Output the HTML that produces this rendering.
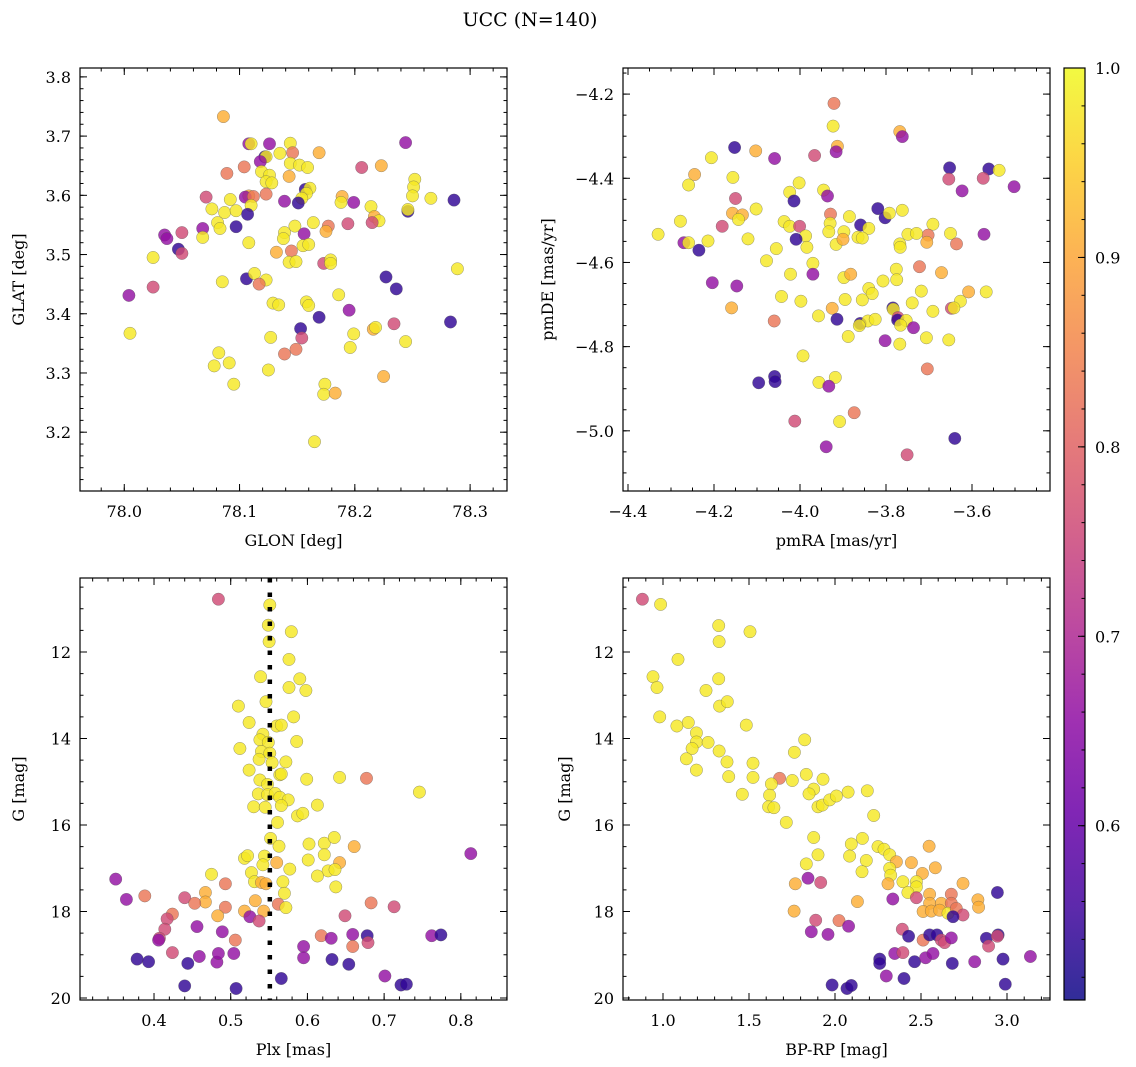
<!DOCTYPE html>
<html><head><meta charset="utf-8"><title>UCC (N=140)</title>
<style>
html,body{margin:0;padding:0;background:#fff;}
svg{display:block;font-family:"DejaVu Serif","Liberation Serif",serif;}
</style></head>
<body>
<svg id="fig" width="1136" height="1067" viewBox="0 0 1136 1067" xmlns="http://www.w3.org/2000/svg">
<text x="530" y="26" font-size="19" text-anchor="middle">UCC (N=140)</text>
</svg>
<script>
// ---- data: [x, y, membership probability] ----
const p1Stars = [[78.086,3.733,.91],[78.108,3.687,.66],[78.110,3.687,.98],[78.126,3.687,.66],[78.144,3.688,.98],[78.244,3.689,.66],[78.146,3.672,.83],[78.135,3.671,.98],[78.169,3.672,.91],[78.122,3.665,.54],[78.123,3.665,.98],[78.118,3.657,.66],[78.144,3.654,.98],[78.152,3.651,.98],[78.159,3.647,.98],[78.089,3.637,.83],[78.104,3.648,.83],[78.206,3.647,.76],[78.223,3.650,.91],[78.119,3.640,.98],[78.126,3.634,.98],[78.123,3.623,.98],[78.128,3.621,.98],[78.143,3.632,.91],[78.252,3.627,.98],[78.251,3.614,.98],[78.250,3.599,.98],[78.157,3.610,.54],[78.161,3.612,.98],[78.158,3.603,.98],[78.154,3.595,.98],[78.151,3.587,.54],[78.139,3.590,.66],[78.071,3.597,.76],[78.092,3.593,.98],[78.076,3.577,.98],[78.087,3.571,.98],[78.097,3.574,.98],[78.108,3.599,.91],[78.105,3.597,.66],[78.112,3.598,.83],[78.123,3.602,.83],[78.110,3.583,.98],[78.107,3.568,.54],[78.189,3.598,.91],[78.188,3.588,.98],[78.199,3.588,.66],[78.266,3.595,.98],[78.286,3.592,.54],[78.214,3.581,.98],[78.217,3.564,.91],[78.221,3.557,.98],[78.215,3.554,.76],[78.246,3.573,.54],[78.246,3.576,.98],[78.081,3.554,.98],[78.083,3.544,.98],[78.068,3.544,.66],[78.068,3.529,.98],[78.097,3.547,.54],[78.035,3.533,.66],[78.037,3.527,.66],[78.050,3.537,.76],[78.047,3.509,.54],[78.050,3.502,.76],[78.025,3.495,.98],[78.108,3.520,.98],[78.148,3.548,.98],[78.139,3.537,.98],[78.138,3.527,.98],[78.156,3.535,.66],[78.164,3.554,.98],[78.177,3.548,.83],[78.175,3.539,.91],[78.194,3.552,.76],[78.155,3.515,.98],[78.160,3.517,.98],[78.132,3.504,.91],[78.145,3.506,.83],[78.143,3.487,.98],[78.149,3.488,.98],[78.173,3.485,.76],[78.179,3.491,.98],[78.179,3.485,.98],[78.289,3.476,.98],[78.106,3.459,.54],[78.113,3.468,.98],[78.123,3.457,.98],[78.117,3.450,.83],[78.085,3.454,.98],[78.227,3.462,.54],[78.236,3.442,.54],[78.004,3.431,.66],[78.025,3.445,.76],[78.129,3.418,.98],[78.134,3.415,.98],[78.158,3.420,.98],[78.160,3.414,.98],[78.186,3.432,.98],[78.195,3.406,.66],[78.169,3.394,.54],[78.283,3.386,.54],[78.234,3.383,.76],[78.216,3.374,.91],[78.218,3.377,.98],[78.153,3.375,.54],[78.154,3.359,.76],[78.005,3.367,.98],[78.127,3.360,.98],[78.199,3.366,.98],[78.196,3.343,.98],[78.244,3.353,.98],[78.139,3.332,.83],[78.149,3.340,.83],[78.082,3.334,.98],[78.078,3.312,.98],[78.091,3.317,.98],[78.125,3.305,.98],[78.095,3.281,.98],[78.225,3.294,.91],[78.174,3.281,.98],[78.173,3.264,.98],[78.183,3.266,.91],[78.165,3.184,.98]];
const p2Stars = [[-3.921,-4.222,.83],[-3.923,-4.276,.98],[-3.768,-4.289,.91],[-3.762,-4.301,.66],[-3.913,-4.324,.91],[-3.916,-4.337,.66],[-4.152,-4.327,.54],[-4.103,-4.335,.91],[-4.059,-4.353,.66],[-3.966,-4.346,.76],[-4.206,-4.351,.98],[-4.245,-4.391,.91],[-4.259,-4.416,.98],[-4.156,-4.398,.98],[-3.652,-4.375,.54],[-3.654,-4.402,.76],[-3.623,-4.430,.66],[-3.561,-4.378,.54],[-3.537,-4.381,.98],[-3.574,-4.400,.76],[-3.502,-4.420,.66],[-4.002,-4.411,.98],[-4.024,-4.433,.98],[-4.014,-4.454,.54],[-3.945,-4.428,.98],[-3.936,-4.442,.66],[-4.150,-4.448,.76],[-3.819,-4.472,.54],[-3.802,-4.494,.54],[-3.792,-4.483,.98],[-3.762,-4.476,.98],[-4.102,-4.473,.98],[-4.157,-4.483,.91],[-4.134,-4.487,.91],[-4.143,-4.498,.98],[-4.278,-4.502,.98],[-4.330,-4.533,.98],[-4.181,-4.514,.76],[-4.270,-4.553,.66],[-4.259,-4.553,.98],[-4.235,-4.571,.54],[-4.214,-4.549,.98],[-4.121,-4.544,.98],[-4.037,-4.503,.98],[-4.024,-4.514,.98],[-4.001,-4.514,.76],[-3.987,-4.537,.98],[-4.009,-4.545,.54],[-3.984,-4.564,.98],[-3.929,-4.485,.83],[-3.930,-4.507,.98],[-3.933,-4.527,.98],[-3.916,-4.557,.98],[-3.898,-4.527,.98],[-3.900,-4.545,.91],[-3.885,-4.491,.98],[-3.859,-4.511,.54],[-3.840,-4.519,.98],[-3.865,-4.540,.98],[-3.855,-4.542,.98],[-3.691,-4.509,.98],[-3.702,-4.535,.83],[-3.705,-4.552,.91],[-3.650,-4.531,.98],[-3.636,-4.556,.83],[-3.749,-4.533,.98],[-3.729,-4.531,.98],[-3.768,-4.556,.98],[-3.767,-4.564,.98],[-3.572,-4.533,.66],[-4.055,-4.567,.98],[-4.078,-4.596,.98],[-3.970,-4.602,.98],[-3.970,-4.628,.66],[-4.022,-4.628,.98],[-4.204,-4.648,.66],[-4.147,-4.656,.66],[-3.898,-4.636,.98],[-3.882,-4.628,.91],[-3.776,-4.616,.98],[-3.775,-4.641,.98],[-3.807,-4.644,.98],[-3.722,-4.610,.83],[-3.671,-4.624,.91],[-3.840,-4.662,.98],[-3.832,-4.674,.98],[-3.718,-4.668,.98],[-3.608,-4.670,.91],[-3.567,-4.670,.98],[-3.627,-4.692,.98],[-4.159,-4.708,.91],[-4.043,-4.681,.98],[-3.998,-4.692,.98],[-3.895,-4.688,.98],[-3.855,-4.689,.98],[-3.739,-4.696,.98],[-3.648,-4.709,.76],[-3.642,-4.708,.98],[-3.691,-4.716,.98],[-3.784,-4.708,.54],[-3.783,-4.711,.98],[-3.925,-4.709,.91],[-4.060,-4.739,.83],[-3.957,-4.727,.98],[-3.914,-4.735,.54],[-3.772,-4.731,.76],[-3.773,-4.737,.54],[-3.753,-4.738,.98],[-3.766,-4.749,.98],[-3.736,-4.755,.66],[-3.860,-4.745,.54],[-3.842,-4.739,.98],[-3.825,-4.735,.98],[-3.862,-4.750,.98],[-3.888,-4.776,.98],[-3.802,-4.786,.66],[-3.768,-4.794,.98],[-3.706,-4.779,.98],[-3.654,-4.784,.98],[-3.993,-4.822,.98],[-3.704,-4.853,.83],[-4.096,-4.886,.54],[-4.059,-4.871,.54],[-4.058,-4.883,.54],[-3.956,-4.885,.98],[-3.918,-4.873,.98],[-3.933,-4.894,.66],[-4.012,-4.977,.76],[-3.908,-4.978,.98],[-3.874,-4.957,.83],[-3.640,-5.018,.54],[-3.939,-5.038,.66],[-3.751,-5.057,.76]];
const p3Stars = [[0.484,10.78,.76],[0.551,10.91,.98],[0.549,11.38,.98],[0.550,11.76,.98],[0.579,11.53,.98],[0.576,12.17,.98],[0.539,12.57,.98],[0.590,12.62,.98],[0.576,12.82,.98],[0.598,12.89,.98],[0.546,13.15,.98],[0.510,13.25,.98],[0.582,13.50,.98],[0.524,13.63,.98],[0.560,13.71,.98],[0.566,13.69,.98],[0.542,13.90,.98],[0.538,14.03,.98],[0.549,14.09,.98],[0.586,14.07,.98],[0.512,14.23,.98],[0.540,14.30,.98],[0.551,14.34,.98],[0.537,14.48,.98],[0.554,14.56,.98],[0.572,14.54,.98],[0.524,14.73,.98],[0.564,14.84,.98],[0.566,14.82,.98],[0.538,14.96,.98],[0.548,15.06,.98],[0.599,14.94,.98],[0.642,14.90,.98],[0.677,14.92,.83],[0.746,15.24,.98],[0.536,15.28,.98],[0.548,15.30,.98],[0.558,15.27,.98],[0.564,15.36,.98],[0.575,15.42,.98],[0.530,15.58,.98],[0.545,15.59,.98],[0.566,15.55,.98],[0.561,15.94,.98],[0.587,15.79,.98],[0.594,15.73,.98],[0.613,15.54,.98],[0.552,16.31,.98],[0.563,16.49,.98],[0.602,16.44,.98],[0.622,16.42,.98],[0.635,16.29,.98],[0.661,16.50,.91],[0.813,16.66,.66],[0.518,16.77,.98],[0.522,16.71,.98],[0.544,16.72,.98],[0.560,16.87,.91],[0.601,16.81,.98],[0.622,16.69,.98],[0.542,16.92,.98],[0.577,17.02,.98],[0.642,16.87,.91],[0.627,17.06,.98],[0.636,17.03,.98],[0.475,17.14,.98],[0.527,17.10,.98],[0.613,17.18,.98],[0.350,17.25,.66],[0.531,17.31,.98],[0.540,17.33,.91],[0.546,17.36,.91],[0.568,17.31,.98],[0.637,17.43,.98],[0.493,17.36,.83],[0.570,17.58,.98],[0.364,17.72,.66],[0.388,17.64,.83],[0.440,17.68,.76],[0.467,17.56,.91],[0.467,17.78,.91],[0.453,17.81,.83],[0.493,17.90,.83],[0.532,17.75,.91],[0.562,17.83,.83],[0.572,17.91,.98],[0.683,17.80,.83],[0.713,17.89,.76],[0.424,18.06,.83],[0.417,18.17,.76],[0.483,18.10,.91],[0.518,17.99,.91],[0.525,18.12,.66],[0.543,17.99,.91],[0.537,18.22,.76],[0.649,18.10,.76],[0.414,18.41,.76],[0.407,18.62,.76],[0.406,18.66,.66],[0.456,18.35,.66],[0.489,18.47,.66],[0.506,18.66,.83],[0.618,18.56,.83],[0.631,18.62,.66],[0.659,18.53,.66],[0.678,18.56,.54],[0.679,18.72,.76],[0.659,18.81,.83],[0.762,18.56,.66],[0.774,18.54,.54],[0.595,18.81,.66],[0.595,19.07,.66],[0.424,18.95,.76],[0.378,19.10,.54],[0.393,19.16,.54],[0.444,19.20,.54],[0.459,19.04,.66],[0.482,19.17,.66],[0.484,18.97,.66],[0.504,18.97,.66],[0.632,19.11,.54],[0.654,19.22,.54],[0.566,19.55,.54],[0.701,19.49,.66],[0.722,19.70,.54],[0.729,19.68,.54],[0.440,19.72,.54],[0.507,19.78,.54]];
const p4Stars = [[0.880,10.78,.76],[0.986,10.90,.98],[1.324,11.39,.98],[1.326,11.76,.98],[1.506,11.53,.98],[1.087,12.17,.98],[0.942,12.57,.98],[0.965,12.82,.98],[1.324,12.62,.98],[1.250,12.89,.98],[1.329,13.25,.98],[1.374,13.15,.98],[0.981,13.50,.98],[1.081,13.71,.98],[1.147,13.63,.98],[1.484,13.69,.98],[1.194,13.87,.98],[1.194,14.08,.98],[1.262,14.09,.98],[1.169,14.23,.98],[1.326,14.29,.98],[1.824,14.03,.98],[1.764,14.32,.98],[1.136,14.47,.98],[1.372,14.54,.98],[1.523,14.57,.98],[1.194,14.73,.98],[1.382,14.88,.98],[1.523,14.90,.98],[1.678,14.92,.83],[1.752,14.97,.98],[1.833,14.83,.98],[1.930,14.94,.98],[1.630,15.05,.98],[1.876,15.17,.98],[1.849,15.28,.98],[1.461,15.29,.98],[1.620,15.31,.98],[1.614,15.58,.98],[1.645,15.60,.98],[1.901,15.58,.98],[1.926,15.54,.98],[1.969,15.42,.98],[2.008,15.33,.98],[2.076,15.24,.98],[2.188,15.21,.98],[2.225,15.78,.98],[1.717,15.94,.98],[1.876,16.29,.98],[2.159,16.31,.98],[2.095,16.44,.98],[1.901,16.69,.98],[2.085,16.72,.98],[2.250,16.50,.98],[2.285,16.56,.98],[2.318,16.69,.98],[2.547,16.49,.91],[2.182,16.82,.98],[2.357,16.85,.91],[2.444,16.87,.91],[1.833,16.90,.98],[2.318,17.00,.98],[2.324,17.16,.98],[2.157,17.08,.98],[2.583,16.99,.91],[2.508,17.12,.91],[1.843,17.23,.66],[1.917,17.33,.76],[1.769,17.36,.91],[2.308,17.36,.91],[2.395,17.31,.98],[2.473,17.31,.98],[2.473,17.43,.98],[2.744,17.35,.91],[2.424,17.56,.98],[2.336,17.71,.66],[2.550,17.60,.91],[2.676,17.60,.83],[2.473,17.68,.76],[2.944,17.56,.54],[2.130,17.77,.91],[2.550,17.81,.91],[2.618,17.81,.91],[2.676,17.81,.83],[2.831,17.73,.91],[2.835,17.90,.91],[2.512,18.00,.91],[2.560,17.99,.91],[2.608,17.97,.91],[2.657,18.04,.98],[2.705,17.93,.83],[2.744,18.08,.76],[2.686,18.12,.54],[1.762,17.99,.91],[1.888,18.20,.76],[2.023,18.21,.83],[2.079,18.34,.66],[1.862,18.47,.66],[1.959,18.53,.66],[2.391,18.41,.76],[2.428,18.57,.54],[2.512,18.66,.83],[2.550,18.54,.54],[2.593,18.54,.54],[2.618,18.66,.76],[2.637,18.72,.76],[2.676,18.61,.66],[2.880,18.62,.54],[2.893,18.80,.76],[2.948,18.54,.54],[2.944,18.57,.76],[2.260,19.10,.54],[2.260,19.20,.54],[2.347,18.97,.66],[2.395,18.95,.76],[2.463,19.16,.54],[2.527,19.07,.66],[2.570,18.97,.66],[2.682,19.20,.54],[2.812,19.16,.66],[2.977,19.10,.54],[3.136,19.04,.66],[2.298,19.49,.66],[2.401,19.55,.54],[1.983,19.70,.54],[2.070,19.78,.54],[2.095,19.71,.54],[2.990,19.68,.54]];
const plxMedian = 0.551;
// tick labels
const p1XTicks = [78.0, 78.1, 78.2, 78.3];
const p1YTicks = [3.2, 3.3, 3.4, 3.5, 3.6, 3.7, 3.8];
const p2XTicks = [-4.4, -4.2, -4.0, -3.8, -3.6];
const p2YTicks = [-5.0, -4.8, -4.6, -4.4, -4.2];
const p3XTicks = [0.4, 0.5, 0.6, 0.7, 0.8];
const gTicks = [12, 14, 16, 18, 20];
const p4XTicks = [1.0, 1.5, 2.0, 2.5, 3.0];
const cbTicks = [0.6, 0.7, 0.8, 0.9, 1.0];
const cbMin = 0.508, cbMax = 1.0;

const NS = "http://www.w3.org/2000/svg";
const svg = document.getElementById('fig');
function el(tag, attrs, parent){
  const e = document.createElementNS(NS, tag);
  for (const k in attrs) e.setAttribute(k, attrs[k]);
  (parent||svg).appendChild(e);
  return e;
}
const stops = ["#0d0887","#41049d","#6a00a8","#8f0da4","#b12a90","#cc4778","#e16462","#f2844b","#fca636","#fcce25","#f0f921"];
function hex(h){return [1,3,5].map(i=>parseInt(h.substr(i,2),16));}
function plasma(t){
  t = Math.max(0, Math.min(1, t));
  const f = t*10, i = Math.min(9, Math.floor(f)), r = f - i;
  const a = hex(stops[i]), b = hex(stops[i+1]);
  return "rgb(" + a.map((v,k)=>Math.round(v+(b[k]-v)*r)).join(",") + ")";
}
function fmt(v, d){ const s = Math.abs(v).toFixed(d); return (v < 0 ? "\u2212" : "") + s; }

function panel(cfg){
  const g = el('g', {});
  
  
  const {x0, x1, y0, y1} = cfg.box;
  const sx = v => x0 + (v - cfg.xd[0]) / (cfg.xd[1] - cfg.xd[0]) * (x1 - x0);
  const sy = v => cfg.yInv ? y0 + (v - cfg.yd[0]) / (cfg.yd[1] - cfg.yd[0]) * (y1 - y0)
                           : y1 - (v - cfg.yd[0]) / (cfg.yd[1] - cfg.yd[0]) * (y1 - y0);
  const clip = el('clipPath', {id: cfg.name + '-clip'}, g);
  el('rect', {x: x0, y: y0, width: x1 - x0, height: y1 - y0}, clip);
  const pts = el('g', {'clip-path': 'url(#' + cfg.name + '-clip)'}, g);
  
  
  cfg.data.forEach(d => {
    const c = el('circle', {cx: sx(d[0]).toFixed(1), cy: sy(d[1]).toFixed(1), r: 6.2,
      fill: plasma((d[2] - cbMin) / (cbMax - cbMin)), 'fill-opacity': 0.82,
      stroke: '#555', 'stroke-opacity': 0.6, 'stroke-width': 0.5}, pts);
    
    
  });
  if (cfg.vline !== undefined) {
    const l = el('line', {x1: sx(cfg.vline), x2: sx(cfg.vline), y1: y0, y2: y1, stroke: '#000',
      'stroke-width': 4.5, 'stroke-dasharray': '4.5,10'}, g);
    
    
  }
  // ticks
  const tk = el('g', {stroke: '#000', 'stroke-width': 1}, g);
  function xt(v, len){ const X = sx(v); if (X < x0 - .1 || X > x1 + .1) return;
    el('line', {x1: X, x2: X, y1: y1, y2: y1 - len}, tk); el('line', {x1: X, x2: X, y1: y0, y2: y0 + len}, tk); }
  function yt(v, len){ const Y = sy(v); if (Y < y0 - .1 || Y > y1 + .1) return;
    el('line', {x1: x0, x2: x0 + len, y1: Y, y2: Y}, tk); el('line', {x1: x1, x2: x1 - len, y1: Y, y2: Y}, tk); }
  const lo = Math.min(...cfg.xd), hi = Math.max(...cfg.xd);
  for (let v = Math.ceil(lo / cfg.xm - 1e-6) * cfg.xm; v <= hi + 1e-9; v += cfg.xm) xt(v, 3.5);
  const ylo = Math.min(...cfg.yd), yhi = Math.max(...cfg.yd);
  for (let v = Math.ceil(ylo / cfg.ym - 1e-6) * cfg.ym; v <= yhi + 1e-9; v += cfg.ym) yt(v, 3.5);
  cfg.xt.forEach(v => xt(v, 7));
  cfg.yt.forEach(v => yt(v, 7));
  cfg.xt.forEach(v => {
    const t = el('text', {x: sx(v), y: y1 + 26, 'font-size': 16, 'text-anchor': 'middle'}, g);
    t.textContent = fmt(v, cfg.xdp);
    
    
  });
  cfg.yt.forEach(v => {
    const t = el('text', {x: x0 - 9, y: sy(v) + 6, 'font-size': 16, 'text-anchor': 'end'}, g);
    t.textContent = fmt(v, cfg.ydp);
    
    
  });
  el('rect', {x: x0, y: y0, width: x1 - x0, height: y1 - y0, fill: 'none', stroke: '#000', 'stroke-width': 1.2}, g);
  const xl = el('text', {x: (x0 + x1) / 2, y: y1 + 55, 'font-size': 16, 'text-anchor': 'middle'}, g);
  xl.textContent = cfg.xlabel;
  
  
  const yx = cfg.ylx, yy = (y0 + y1) / 2;
  const yl = el('text', {x: yx, y: yy, 'font-size': 16, 'text-anchor': 'middle', transform: 'rotate(-90 ' + yx + ' ' + yy + ')'}, g);
  yl.textContent = cfg.ylabel;
  
  
}

panel({name: 'glon-glat-panel', box: {x0: 80, x1: 507, y0: 68, y1: 491}, xd: [77.9616, 78.332], yd: [3.1007, 3.815],
  data: p1Stars, xt: p1XTicks, yt: p1YTicks, xm: 0.02, ym: 0.02, xdp: 1, ydp: 1, xlabel: 'GLON [deg]', ylabel: 'GLAT [deg]', ylx: 24});
panel({name: 'pm-panel', box: {x0: 623, x1: 1050, y0: 68, y1: 491}, xd: [-4.4116, -3.4186], yd: [-5.143, -4.138],
  data: p2Stars, xt: p2XTicks, yt: p2YTicks, xm: 0.05, ym: 0.05, xdp: 1, ydp: 1, xlabel: 'pmRA [mas/yr]', ylabel: 'pmDE [mas/yr]', ylx: 553});
panel({name: 'plx-g-panel', box: {x0: 80, x1: 507, y0: 578, y1: 1000}, xd: [0.3035, 0.8602], yd: [10.289, 20.046], yInv: true,
  data: p3Stars, xt: p3XTicks, yt: gTicks, xm: 0.02, ym: 0.5, xdp: 1, ydp: 0, xlabel: 'Plx [mas]', ylabel: 'G [mag]', ylx: 24, vline: plxMedian});
panel({name: 'cmd-panel', box: {x0: 623, x1: 1050, y0: 578, y1: 1000}, xd: [0.7674, 3.25], yd: [10.289, 20.046], yInv: true,
  data: p4Stars, xt: p4XTicks, yt: gTicks, xm: 0.1, ym: 0.5, xdp: 1, ydp: 0, xlabel: 'BP-RP [mag]', ylabel: 'G [mag]', ylx: 570});

// colorbar
(function(){
  const g = el('g', {});
  
  
  const defs = el('defs', {}, g);
  const lg = el('linearGradient', {id: 'cbgrad', x1: 0, y1: 1, x2: 0, y2: 0}, defs);
  stops.forEach((c, i) => el('stop', {offset: (i / 10), 'stop-color': c}, lg));
  const cx0 = 1064, cx1 = 1085, cy0 = 68, cy1 = 1000;
  el('rect', {x: cx0, y: cy0, width: cx1 - cx0, height: cy1 - cy0, fill: 'url(#cbgrad)', 'fill-opacity': 0.85}, g);
  el('rect', {x: cx0, y: cy0, width: cx1 - cx0, height: cy1 - cy0, fill: 'none', stroke: '#000', 'stroke-width': 1.2}, g);
  const sy = v => cy1 - (v - cbMin) / (cbMax - cbMin) * (cy1 - cy0);
  for (let v = 0.52; v <= 1.0001; v += 0.02) el('line', {x1: cx1, x2: cx1 - 3.5, y1: sy(v), y2: sy(v), stroke: '#000'}, g);
  cbTicks.forEach(v => {
    el('line', {x1: cx1, x2: cx1 - 7, y1: sy(v), y2: sy(v), stroke: '#000'}, g);
    const t = el('text', {x: 1095, y: sy(v) + 6, 'font-size': 16}, g);
    t.textContent = v.toFixed(1);
    
    
  });
})();
</script>
</body></html>
